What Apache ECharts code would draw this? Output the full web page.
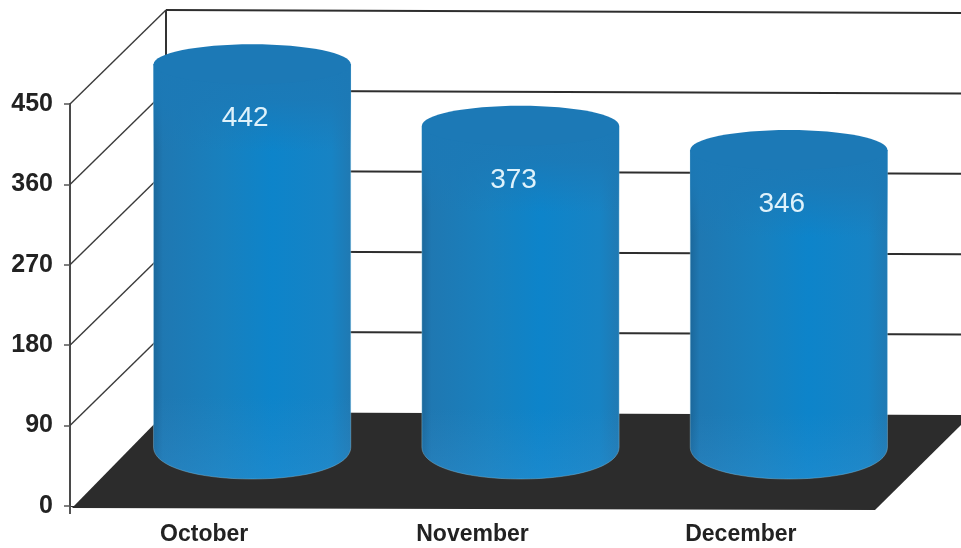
<!DOCTYPE html>
<html>
<head>
<meta charset="utf-8">
<style>html,body{margin:0;padding:0;background:#fff}#c{width:961px;height:548px}</style>
<script src="https://cdn.jsdelivr.net/npm/echarts@6/dist/echarts.min.js"></script>
</head>
<body>
<div id="c"></div>
<script>
const categories = ['October', 'November', 'December'];
const values = [442, 373, 346];
const yTicks = [0, 90, 180, 270, 360, 450];

const DEPTH_X = 96, DEPTH_Y = 94;
const WALL_RIGHT = 961;
const TILT = 3;
const BAR_RATIO = 0.735, CAP_RY = 20;
const FONT = '"Liberation Sans", Arial, sans-serif';

const chart = echarts.init(document.getElementById('c'), null, { renderer: 'canvas' });

function renderFloor(params, api) {
  const g = params.coordSys;
  const y0 = api.coord([0, api.value(1)])[1];
  const L = g.x, R = g.x + g.width;
  return {
    type: 'polygon',
    shape: { points: [
      [L + 2, y0 + 2],
      [L + DEPTH_X, y0 - DEPTH_Y],
      [R + DEPTH_X, y0 - DEPTH_Y + TILT],
      [R, y0 + 1 + TILT]
    ] },
    style: { fill: '#2c2c2c' }
  };
}

function renderWall(params, api) {
  const g = params.coordSys;
  const v = api.value(1);
  const y = api.coord([0, v])[1];
  const L = g.x, B = L + DEPTH_X;
  const ink = { stroke: '#3a3a3a', lineWidth: 1.4, fill: null };
  const kids = [];
  if (v > 0) {
    kids.push({ type: 'line', shape: { x1: L, y1: y, x2: B, y2: y - DEPTH_Y }, style: ink });
    kids.push({ type: 'line',
      shape: { x1: B, y1: y - DEPTH_Y, x2: WALL_RIGHT, y2: y - DEPTH_Y + TILT },
      style: { stroke: '#2e2e2e', lineWidth: 2, fill: null } });
  }
  if (v === 450) {
    const yb = api.coord([0, 0])[1];
    kids.push({ type: 'line', shape: { x1: B, y1: y - DEPTH_Y, x2: B, y2: yb - DEPTH_Y }, style: { stroke: '#333', lineWidth: 2, fill: null } });
  }
  if (v === 0) {
    kids.push({ type: 'line', shape: { x1: L, y1: y, x2: L, y2: y + 8 }, style: { stroke: '#555', lineWidth: 2, fill: null } });
  }
  return { type: 'group', children: kids };
}

function renderCylinder(params, api) {
  const idx = api.value(0);
  const val = api.value(1);
  const top = api.coord([idx, val]);
  const base = api.coord([idx, 0]);
  const band = api.size([1, 0])[0];
  const rx = band * BAR_RATIO / 2;
  const cx = top[0] + DEPTH_X / 2;
  const yT = top[1] - DEPTH_Y / 2;
  const yB = base[1] - DEPTH_Y / 2;
  const side = {
    type: 'linear', x: 0, y: 0, x2: 1, y2: 0,
    colorStops: [
      { offset: 0, color: '#1b679a' },
      { offset: 0.05, color: '#1f78b2' },
      { offset: 0.35, color: '#1880be' },
      { offset: 0.6, color: '#0d84ca' },
      { offset: 0.9, color: '#1783c4' },
      { offset: 1, color: '#2079b2' }
    ]
  };
  const h = yB + CAP_RY - yT;
  const shade = {
    type: 'linear', x: 0, y: 0, x2: 0, y2: 1,
    colorStops: [
      { offset: 0, color: 'rgba(28,121,182,1)' },
      { offset: 0.09 * 395 / h, color: 'rgba(28,121,182,0.85)' },
      { offset: 0.22 * 395 / h, color: 'rgba(28,121,182,0)' },
      { offset: 0.8, color: 'rgba(60,145,205,0)' },
      { offset: 1, color: 'rgba(55,150,215,0.3)' }
    ]
  };
  const bodyPath = 'M' + (cx - rx) + ' ' + yT + 'L' + (cx + rx) + ' ' + yT + 'L' + (cx + rx) + ' ' + (yB - 12) +
    'C' + (cx + rx) + ' ' + (yB + 8) + ' ' + (cx + rx * 0.55) + ' ' + (yB + CAP_RY) + ' ' + cx + ' ' + (yB + CAP_RY) +
    'C' + (cx - rx * 0.55) + ' ' + (yB + CAP_RY) + ' ' + (cx - rx) + ' ' + (yB + 8) + ' ' + (cx - rx) + ' ' + (yB - 12) + 'Z';
  return {
    type: 'group',
    children: [
      { type: 'path', shape: { pathData: bodyPath }, style: { fill: side, stroke: 'rgba(170,220,240,0.35)', lineWidth: 1 } },
      { type: 'path', shape: { pathData: bodyPath }, style: { fill: shade } },
      { type: 'ellipse', shape: { cx: cx, cy: yT, rx: rx, ry: CAP_RY }, style: { fill: '#1c79b6' } },
      { type: 'text',
        style: {
          text: String(val), x: cx - 7, y: yT + 54,
          fill: '#dff2fb', font: '28px ' + FONT,
          textAlign: 'center', textVerticalAlign: 'middle'
        } }
    ]
  };
}

chart.setOption({
  animation: false,
  backgroundColor: '#ffffff',
  grid: { left: 70, top: 104, width: 805, height: 402, containLabel: false },
  xAxis: {
    type: 'category',
    data: categories,
    axisLine: { show: true, lineStyle: { color: '#2c2c2c', width: 1 } },
    axisTick: { show: false },
    axisLabel: { color: '#222', fontFamily: FONT, fontWeight: 'bold', fontSize: 23, margin: 17 }
  },
  yAxis: {
    type: 'value', min: 0, max: 450, interval: 90,
    splitLine: { show: false },
    axisLine: { show: true, lineStyle: { color: '#4a4a4a', width: 2 } },
    axisTick: { show: true, length: 6, lineStyle: { color: '#555', width: 1.5 } },
    axisLabel: {
      color: '#222', fontFamily: FONT, fontWeight: 'bold', fontSize: 25, margin: 17,
      formatter: function (v) { return yTicks.indexOf(v) >= 0 ? String(v) : ''; }
    }
  },
  series: [
    { type: 'custom', name: 'floor', z: 1, silent: true, clip: false,
      renderItem: renderFloor, data: [[0, yTicks[0]]] },
    { type: 'custom', name: 'wall', z: 2, silent: true, clip: false,
      renderItem: renderWall, data: yTicks.map(function (t) { return [0, t]; }) },
    { type: 'custom', name: 'Count', z: 3, silent: true, clip: false,
      renderItem: renderCylinder,
      data: values.map(function (v, i) { return [i, v]; }) }
  ]
});
</script>
</body>
</html>
